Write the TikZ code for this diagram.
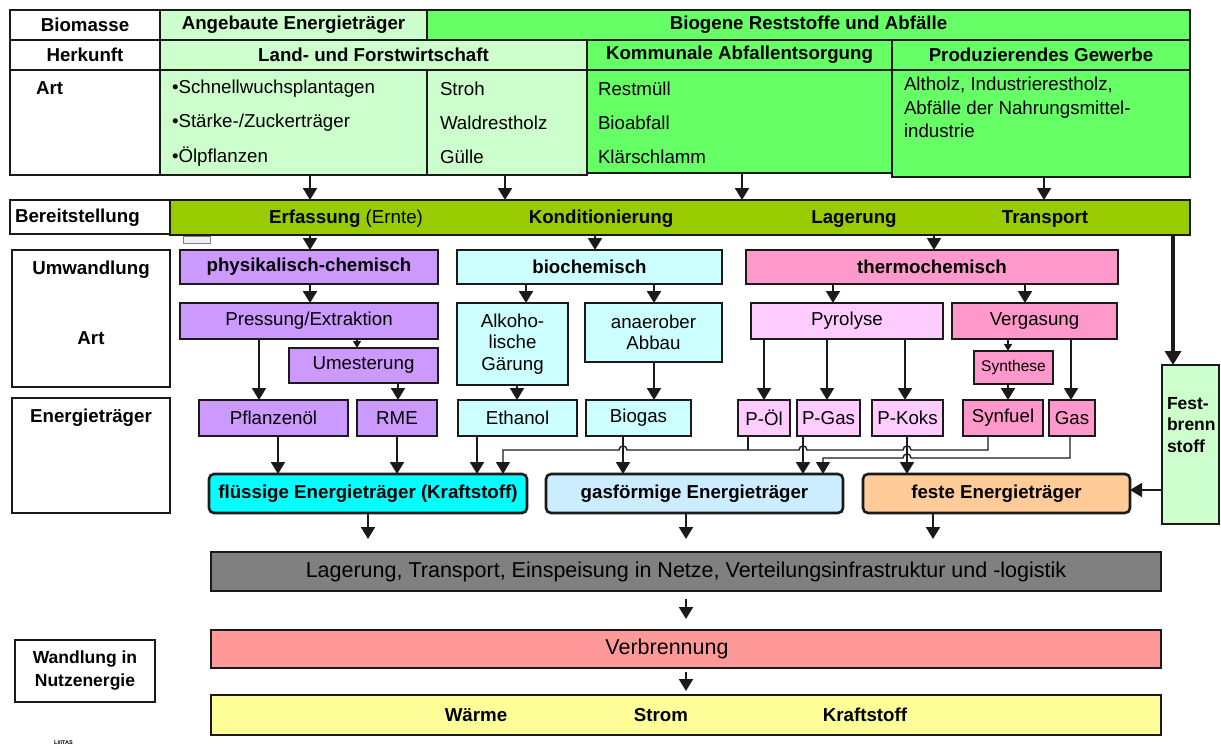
\documentclass[tikz,border=0pt]{standalone}
\usepackage{fontspec}
\setmainfont{Liberation Sans}
\usetikzlibrary{arrows.meta}
\definecolor{cLG}{HTML}{CCFFCC}
\definecolor{cBG}{HTML}{66FF66}
\definecolor{cOl}{HTML}{99CC00}
\definecolor{cPu}{HTML}{CC99FF}
\definecolor{cLC}{HTML}{CCFFFF}
\definecolor{cPk}{HTML}{FF99CC}
\definecolor{cLP}{HTML}{FFCCFF}
\definecolor{cCy}{HTML}{00FFFF}
\definecolor{cLB}{HTML}{CCECFF}
\definecolor{cPe}{HTML}{FFCC99}
\definecolor{cGr}{HTML}{808080}
\definecolor{cSa}{HTML}{FF9999}
\definecolor{cYe}{HTML}{FFFF99}
\definecolor{cLn}{HTML}{1A1A1A}
\newcommand{\myB}{\bfseries\fontsize{18.7}{21}\selectfont}
\newcommand{\myN}{\fontsize{18.7}{21.5}\selectfont}
\begin{document}
\begin{tikzpicture}[x=1pt,y=-1pt,
  tbl/.style={draw=cLn, line width=1.5pt, inner sep=0pt, outer sep=0pt, anchor=north west, align=center, font=\myB},
  bx/.style={draw=cLn, line width=1.2pt, inner sep=0pt, outer sep=0pt, anchor=north west, align=center, font=\myN},
  rbx/.style={bx, rounded corners=5pt, line width=2.6pt, font=\myB},
  txt/.style={inner sep=0pt, outer sep=0pt, anchor=west, font=\myN},
  btxt/.style={inner sep=0pt, outer sep=0pt, font=\myB},
  arr/.style={draw=cLn, line width=2pt, -{Triangle[width=14pt,length=12pt]}},
  arrS/.style={draw=cLn, line width=1.4pt, -{Triangle[width=8pt,length=7pt]}},
  arrT/.style={draw=cLn, line width=3.4pt, -{Triangle[width=16pt,length=14pt]}},
  ln/.style={draw=cLn, line width=1.4pt},
  rl/.style={draw=cLn, line width=1.4pt, -{Triangle[width=14pt,length=12pt]}}
]
\useasboundingbox (0,0) rectangle (1221,749);

% ---------- top table ----------
\node[tbl, fill=white, minimum width=150pt, minimum height=30pt] (lbBio) at (10,10) {Biomasse};
\node[tbl, fill=white, minimum width=150pt, minimum height=30pt] (lbHer) at (10,40) {Herkunft};
\node[tbl, fill=white, minimum width=150pt, minimum height=105pt] (lbArt) at (10,70) {};
\node[btxt, anchor=west] (tArt) at (36,88) {Art};
\node[tbl, fill=cLG, minimum width=267pt, minimum height=30pt] (angeb) at (160,10) {Angebaute Energieträger};
\node[tbl, fill=cBG, minimum width=763pt, minimum height=30pt] (biogen) at (427,10) {Biogene Reststoffe und Abfälle};
\node[tbl, fill=cLG, minimum width=427pt, minimum height=30pt] (landf) at (160,40) {Land- und Forstwirtschaft};
\node[tbl, fill=cBG, minimum width=305pt, minimum height=30pt] (komm) at (587,40) {Kommunale Abfallentsorgung};
\node[tbl, fill=cBG, minimum width=298pt, minimum height=30pt] (prod) at (892,40) {Produzierendes Gewerbe};
\node[tbl, fill=cLG, minimum width=267pt, minimum height=105pt] (artA) at (160,70) {};
\node[tbl, fill=cLG, minimum width=160pt, minimum height=105pt] (artB) at (427,70) {};
\node[tbl, fill=cBG, minimum width=305pt, minimum height=103pt] (artC) at (587,70) {};
\node[tbl, fill=cBG, minimum width=298pt, minimum height=107pt] (artD) at (892,70) {};

\node[txt] (a1) at (172,89) {•Schnellwuchsplantagen};
\node[txt] (a2) at (172,123) {•Stärke-/Zuckerträger};
\node[txt] (a3) at (172,157) {•Ölpflanzen};
\node[txt] (b1) at (440,89) {Stroh};
\node[txt] (b2) at (440,123) {Waldrestholz};
\node[txt] (b3) at (440,157) {Gülle};
\node[txt] (c1) at (598,89) {Restmüll};
\node[txt] (c2) at (598,123) {Bioabfall};
\node[txt] (c3) at (598,157) {Klärschlamm};
\node[txt, anchor=north west, align=left, font=\fontsize{18.7}{23.5}\selectfont] (d1) at (904,77) {Altholz, Industrierestholz,\\Abfälle der Nahrungsmittel-\\industrie};

% ---------- Bereitstellung ----------
\node[tbl, fill=white, minimum width=160pt, minimum height=34pt] (lbBer) at (10,200) {};
\node[btxt, anchor=west] (tBer) at (15,218) {Bereitstellung};
\node[tbl, fill=cOl, minimum width=1020pt, minimum height=35pt] (bar) at (170,200) {};
\node[btxt] (tErf) at (346,219) {Erfassung \mdseries(Ernte)};
\node[btxt] (tKon) at (601,219) {Konditionierung};
\node[btxt] (tLag) at (854,219) {Lagerung};
\node[btxt] (tTra) at (1045,219) {Transport};
\draw[draw=gray, fill=gray!12, line width=0.8pt] (183,236) rectangle (210,243);

\draw[arr] (310,0 |- artA.south) -- (310,0 |- bar.north);
\draw[arr] (505,0 |- artB.south) -- (505,0 |- bar.north);
\draw[arr] (742,0 |- artC.south) -- (742,0 |- bar.north);
\draw[arr] (1044,0 |- artD.south) -- (1044,0 |- bar.north);

% ---------- Umwandlung ----------
\node[tbl, fill=white, minimum width=158pt, minimum height=137pt] (lbUm) at (12,250) {};
\node[btxt] (tUm) at (91,270) {Umwandlung};
\node[btxt] (tArt2) at (91,338) {Art};
\node[tbl, fill=white, minimum width=158pt, minimum height=115pt] (lbEt) at (12,398) {};
\node[btxt] (tEt) at (91,418) {Energieträger};

\node[bx, fill=cPu, minimum width=258pt, minimum height=34pt, font=\myB] (phys) at (180,250) {physikalisch-chemisch};
\node[bx, fill=cLC, minimum width=265pt, minimum height=34pt, font=\myB] (bioc) at (457,250) {biochemisch};
\node[bx, fill=cPk, minimum width=372pt, minimum height=34pt, font=\myB] (therm) at (746,250) {thermochemisch};

\node[bx, fill=cPu, minimum width=258pt, minimum height=36pt] (press) at (180,303) {Pressung/Extraktion};
\node[bx, fill=cPu, minimum width=149pt, minimum height=35pt] (umest) at (289,348) {Umesterung};
\node[bx, fill=cLC, minimum width=111pt, minimum height=82pt] (alk) at (457,303) {Alkoho-\\lische\\Gärung};
\node[bx, fill=cLC, minimum width=137pt, minimum height=59pt] (anae) at (585,303) {anaerober\\Abbau};
\node[bx, fill=cLP, minimum width=192pt, minimum height=36pt] (pyro) at (751,303) {Pyrolyse};
\node[bx, fill=cPk, minimum width=165pt, minimum height=36pt] (verg) at (952,303) {Vergasung};
\node[bx, fill=cPk, minimum width=79pt, minimum height=33pt, font=\fontsize{15.5}{17}\selectfont] (synth) at (974,351) {Synthese};

\node[bx, fill=cPu, minimum width=149pt, minimum height=36pt] (pfl) at (199,400) {Pflanzenöl};
\node[bx, fill=cPu, minimum width=80pt, minimum height=36pt] (rme) at (357,400) {RME};
\node[bx, fill=cLC, minimum width=119pt, minimum height=36pt] (eth) at (458,400) {Ethanol};
\node[bx, fill=cLC, minimum width=105pt, minimum height=36pt] (biogas) at (586,400) {Biogas};
\node[bx, fill=cLP, minimum width=52pt, minimum height=36pt] (poel) at (738,400) {P-Öl};
\node[bx, fill=cLP, minimum width=63pt, minimum height=36pt] (pgas) at (797,400) {P-Gas};
\node[bx, fill=cLP, minimum width=71pt, minimum height=36pt] (pkoks) at (872,400) {P-Koks};
\node[bx, fill=cPk, minimum width=80pt, minimum height=36pt] (synf) at (963,400) {Synfuel};
\node[bx, fill=cPk, minimum width=46pt, minimum height=36pt] (gasb) at (1049,400) {Gas};

\node[bx, fill=cLG, minimum width=57pt, minimum height=159pt] (fest) at (1162,365) {};
\node[btxt, anchor=north west, align=left, font=\bfseries\fontsize{17.5}{21.5}\selectfont] (tFest) at (1167,397) {Fest-\\brenn\\stoff};

\node[rbx, fill=cCy, minimum width=318pt, minimum height=39pt] (fl) at (209,474) {flüssige Energieträger (Kraftstoff)};
\node[rbx, fill=cLB, minimum width=297pt, minimum height=39pt] (gf) at (546,474) {gasförmige Energieträger};
\node[rbx, fill=cPe, minimum width=267pt, minimum height=39pt] (fe) at (863,474) {feste Energieträger};

% arrows in the conversion part
\draw[arr] (310,0 |- bar.south) -- (310,0 |- phys.north);
\draw[arr] (595,0 |- bar.south) -- (595,0 |- bioc.north);
\draw[arr] (934,0 |- bar.south) -- (934,0 |- therm.north);
\draw[arrT] (1173,0 |- bar.south) -- (1173,0 |- fest.north);
\draw[arr] (310,0 |- phys.south) -- (310,0 |- press.north);
\draw[arr] (526,0 |- bioc.south) -- (526,0 |- alk.north);
\draw[arr] (654,0 |- bioc.south) -- (654,0 |- anae.north);
\draw[arr] (833,0 |- therm.south) -- (833,0 |- pyro.north);
\draw[arr] (1025,0 |- therm.south) -- (1025,0 |- verg.north);
\draw[arrS] (357,0 |- press.south) -- (357,0 |- umest.north);
\draw[arr] (259,0 |- press.south) -- (259,0 |- pfl.north);
\draw[arr] (398,0 |- umest.south) -- (398,0 |- rme.north);
\draw[arr] (517,0 |- alk.south) -- (517,0 |- eth.north);
\draw[arr] (654,0 |- anae.south) -- (654,0 |- biogas.north);
\draw[arr] (764,0 |- pyro.south) -- (764,0 |- poel.north);
\draw[arr] (827,0 |- pyro.south) -- (827,0 |- pgas.north);
\draw[arr] (905,0 |- pyro.south) -- (905,0 |- pkoks.north);
\draw[arrS] (1008,0 |- verg.south) -- (1008,0 |- synth.north);
\draw[arr] (1008,0 |- synth.south) -- (1008,0 |- synf.north);
\draw[arr] (1071,0 |- verg.south) -- (1071,0 |- gasb.north);

% energy carriers to categories
\draw[arr] (278,0 |- pfl.south) -- (278,0 |- fl.north);
\draw[arr] (397,0 |- rme.south) -- (397,0 |- fl.north);
\draw[arr] (477,0 |- eth.south) -- (477,0 |- fl.north);
\draw[arr] (623,0 |- biogas.south) -- (623,0 |- gf.north);
\draw[arr] (803,0 |- pgas.south) -- (803,0 |- gf.north);
\draw[arr] (907,0 |- pkoks.south) -- (907,0 |- fe.north);
% rail 1: Synfuel (and P-Öl) to liquid
\draw[rl] (988,0 |- synf.south) -- (988,450) -- (911,450)
  .. controls (911,444.7) and (903,444.7) .. (903,450) -- (807,450)
  .. controls (807,444.7) and (799,444.7) .. (799,450) -- (627,450)
  .. controls (627,444.7) and (619,444.7) .. (619,450) -- (503,450) -- (503,0 |- fl.north);
\draw[ln] (748,0 |- poel.south) -- (748,450);
% rail 2: Gas to gaseous
\draw[rl] (1070,0 |- gasb.south) -- (1070,458) -- (911,458)
  .. controls (911,452.7) and (903,452.7) .. (903,458) -- (823,458) -- (823,0 |- gf.north);
% Festbrennstoff to feste
\draw[arr] (fest.west |- 0,490) -- (fe.east |- 0,490);

% ---------- distribution and use ----------
\node[bx, fill=cGr, minimum width=950pt, minimum height=39pt, font=\fontsize{21.5}{24}\selectfont] (lager) at (211,552) {Lagerung, Transport, Einspeisung in Netze, Verteilungsinfrastruktur und -logistik};
\node[bx, fill=cSa, minimum width=950pt, minimum height=38pt] (verbr) at (211,630) {};
\node[inner sep=0pt, font=\fontsize{21.5}{24}\selectfont] (tVer) at (667,649) {Verbrennung};
\node[bx, fill=cYe, minimum width=950pt, minimum height=40pt] (use) at (211,695) {};
\node[btxt] (tW) at (476,715) {Wärme};
\node[btxt] (tS) at (661,715) {Strom};
\node[btxt] (tK) at (865,715) {Kraftstoff};
\node[tbl, fill=white, minimum width=140pt, minimum height=62pt, font=\bfseries\fontsize{17.5}{23}\selectfont] (lbWa) at (15,640) {Wandlung in\\Nutzenergie};
\node[inner sep=0pt, anchor=west, font=\bfseries\fontsize{5.5}{6}\selectfont] (itas) at (54,743) {LI/ITAS};

\coordinate (e1) at (368,539);
\coordinate (e2) at (686,539);
\coordinate (e3) at (933,539);
\draw[arr] (368,0 |- fl.south) -- (e1);
\draw[arr] (686,0 |- gf.south) -- (e2);
\draw[arr] (933,0 |- fe.south) -- (e3);
\coordinate (s1) at (686,599);
\coordinate (s2) at (686,619);
\coordinate (s3) at (686,672);
\coordinate (s4) at (686,691);
\draw[arr] (s1) -- (s2);
\draw[arr] (s3) -- (s4);
\end{tikzpicture}
\end{document}
